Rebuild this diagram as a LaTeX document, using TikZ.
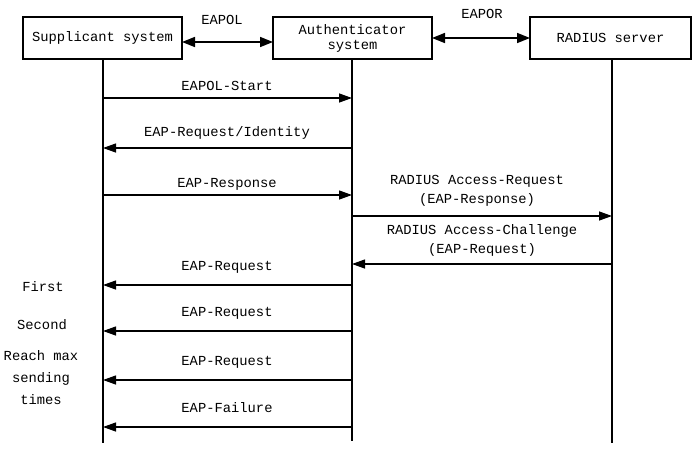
\documentclass[tikz,border=0pt]{standalone}
\usepackage{fontspec}
\setmainfont{Liberation Mono}
\usetikzlibrary{arrows.meta}
\begin{document}
\begin{tikzpicture}[x=1pt,y=-1pt,
  ent/.style={draw,line width=1.1pt,minimum height=42pt,inner sep=0pt,align=center,font=\fontsize{13.8}{15}\selectfont},
  life/.style={line width=1.3pt},
  msg/.style={line width=1.3pt,-{Triangle[length=13pt,width=9pt]}},
  both/.style={line width=1.6pt,{Triangle[length=13pt,width=10pt]}-{Triangle[length=13pt,width=10pt]}},
  lbl/.style={font=\fontsize{13.8}{19}\selectfont,align=center,inner sep=0pt}]
\useasboundingbox (0,0) rectangle (700,453);
\node[ent,minimum width=159pt] (sup) at (102.5,38) {Supplicant system};
\node[ent,minimum width=159pt] (auth) at (352.5,38) {Authenticator\\system};
\node[ent,minimum width=161pt] (rad) at (610.5,38) {RADIUS server};
\coordinate (s0) at (103,59); \coordinate (s1) at (103,443);
\coordinate (a0) at (352,59); \coordinate (a1) at (352,441);
\coordinate (r0) at (612,59); \coordinate (r1) at (612,443);
\draw[life] (s0) -- (s1);
\draw[life] (a0) -- (a1);
\draw[life] (r0) -- (r1);
\coordinate (e1) at (182,42); \coordinate (e2) at (273,42);
\draw[both] (e1) -- (e2);
\node[lbl] (eapol) at (222,20) {EAPOL};
\coordinate (f1) at (432,38); \coordinate (f2) at (530,38);
\draw[both] (f1) -- (f2);
\node[lbl] (eapor) at (482,14) {EAPOR};
% messages
\foreach \nm/\y in {m1/98, m2/148, m3/195, m6/285, m7/331, m8/380, m9/427}{
  \coordinate (\nm s) at (103,\y); \coordinate (\nm a) at (352,\y);
}
\draw[msg] (m1s) -- (m1a);
\node[lbl] (t1) at (227,86) {EAPOL-Start};
\draw[msg] (m2a) -- (m2s);
\node[lbl] (t2) at (227,133) {EAP-Request/Identity};
\draw[msg] (m3s) -- (m3a);
\node[lbl] (t3) at (227,184) {EAP-Response};
\coordinate (m4a) at (352,216); \coordinate (m4r) at (612,216);
\draw[msg] (m4a) -- (m4r);
\node[lbl] (t4) at (477,191) {RADIUS Access-Request\\(EAP-Response)};
\coordinate (m5a) at (352,264); \coordinate (m5r) at (612,264);
\draw[msg] (m5r) -- (m5a);
\node[lbl] (t5) at (482,240) {RADIUS Access-Challenge\\(EAP-Request)};
\draw[msg] (m6a) -- (m6s);
\node[lbl] (t6) at (227,267) {EAP-Request};
\draw[msg] (m7a) -- (m7s);
\node[lbl] (t7) at (227,313) {EAP-Request};
\draw[msg] (m8a) -- (m8s);
\node[lbl] (t8) at (227,362) {EAP-Request};
\draw[msg] (m9a) -- (m9s);
\node[lbl] (t9) at (227,408) {EAP-Failure};
\node[lbl] (first) at (43,287) {First};
\node[lbl] (second) at (42,325) {Second};
\node[lbl,font=\fontsize{13.8}{22}\selectfont] (reach) at (41,378) {Reach max\\sending\\times};
\end{tikzpicture}
\end{document}
